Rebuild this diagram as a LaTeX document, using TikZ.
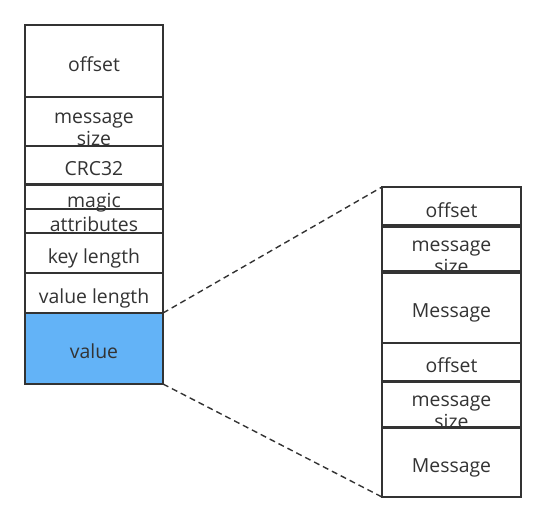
\documentclass[tikz,border=0pt]{standalone}
\usepackage{fontspec}
\setmainfont{Open Sans}
\usetikzlibrary{positioning}
\definecolor{frame}{HTML}{333333}
\definecolor{valblue}{HTML}{63B3F7}

\begin{document}
\begin{tikzpicture}[x=1pt,y=-1pt,
every node/.style={draw=frame, line width=1.6pt, inner sep=0pt, outer sep=0pt,
  text=frame, font=\fontsize{19.4}{22}\selectfont, text height=20pt, text depth=0pt},
left cell/.style={minimum width=138pt},
right cell/.style={minimum width=139pt},
two lines/.style={align=center, text height=48pt, text depth=0pt}]
\useasboundingbox (0,0) rectangle (546,523);
% left column
\node[left cell, minimum height=72pt] (off) at (94,61) {offset};
\node[left cell, minimum height=49pt, two lines] (msize) at (94,121.5) {message\\size};
\node[left cell, minimum height=38pt] (crc) at (94,165) {CRC32};
\node[left cell, minimum height=24pt] (magic) at (94,197) {magic};
\node[left cell, minimum height=24pt] (attr) at (94,221) {attributes};
\node[left cell, minimum height=40pt] (klen) at (94,253) {key length};
\node[left cell, minimum height=40pt] (vlen) at (94,293) {value length};
\node[left cell, minimum height=71pt, fill=valblue] (val) at (94,348.5) {value};
% right column
\node[right cell, minimum height=40pt] (roff) at (451.5,207) {offset};
\node[right cell, minimum height=44pt, two lines] (rsize) at (451.5,249) {message\\size};
\node[right cell, minimum height=72pt] (rmsg) at (451.5,307) {Message};
\node[right cell, minimum height=39pt] (roffb) at (451.5,362.5) {offset};
\node[right cell, minimum height=45pt, two lines] (rsizeb) at (451.5,404.5) {message\\size};
\node[right cell, minimum height=70pt] (rmsgb) at (451.5,462) {Message};
% zoom lines
\draw[frame, line width=1.4pt, dash pattern=on 6pt off 4pt] (val.north east) -- (roff.north west);
\draw[frame, line width=1.4pt, dash pattern=on 6pt off 4pt] (val.south east) -- (rmsgb.south west);
\end{tikzpicture}
\end{document}
